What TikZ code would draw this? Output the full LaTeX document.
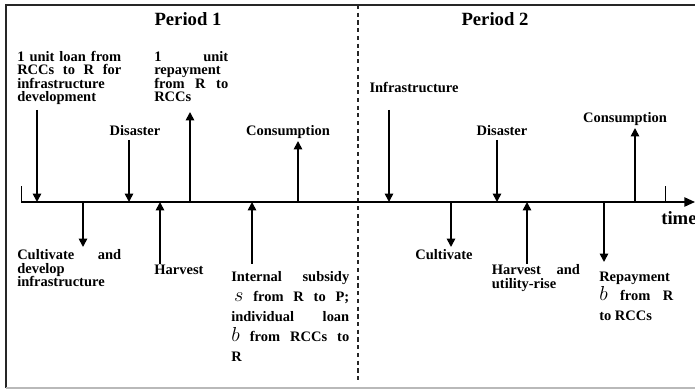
\documentclass[tikz,border=0pt]{standalone}
\usepackage{fontspec}
\setmainfont{Liberation Serif}
\usetikzlibrary{arrows.meta}

\begin{document}
\begin{tikzpicture}[
  evtlabel/.style={font=\fontsize{10.3}{9.5}\selectfont\bfseries, inner sep=0pt,
              anchor=base},
  evtblock/.style={evtlabel, anchor=base west, text width=#1, align=justify},
  mathgap/.style={font=\fontsize{10.3}{14.2}\selectfont\bfseries},
  periodlabel/.style={font=\fontsize{13.3}{15}\selectfont\bfseries, inner sep=0pt,
              anchor=base},
  evtarr/.style={-{Triangle[length=6pt, width=6pt]}, line width=1.2pt},
  axisline/.style={-{Triangle[length=7.5pt, width=6.5pt]}, line width=1.2pt},
  axtick/.style={line width=0.7pt}
]
  \useasboundingbox (0,0) rectangle (17.375,9.725);

  % Frame
  \draw[line width=1.5pt, black!85] (0.15,0.025) -- (0.15,9.6) -- (17.375,9.6);
  \draw[line width=0.8pt, gray!55] (0.15,0.025) -- (17.375,0.025);

  % Period divider
  \draw[gray!30!black, line width=0.8pt, dash pattern=on 3pt off 2.5pt]
    (8.95,9.6) -- (8.95,0.175);

  % Periods
  \node[periodlabel] (p1) at (4.7,9.09)   {Period 1};
  \node[periodlabel] (p2) at (12.375,9.09) {Period 2};

  % Time axis
  \coordinate (axL)   at (0.525,4.675);
  \coordinate (axR)   at (17.375,4.675);
  \coordinate (tickL) at (0.525,5.075);
  \coordinate (tickR) at (16.625,5.075);
  \coordinate (tickRb) at (16.625,4.675);
  \draw[axisline] (axL) -- (axR);
  \draw[axtick] (axL) -- (tickL);
  \draw[axtick] (tickRb) -- (tickR);
  \node[periodlabel, anchor=base west] (time) at (16.525,4.1) {time};

  % Events above the axis
  \node[evtblock=2.6cm] (loanTxt) at (0.425,8.19)
    {1 unit loan from\linebreak RCCs to R for\linebreak infrastructure\linebreak development};
  \node[evtblock=1.85cm] (rep1Txt) at (3.85,8.19)
    {1 unit\linebreak repayment\linebreak from R to\linebreak RCCs};
  \node[evtlabel] (dis1Txt) at (3.375,6.325) {Disaster};
  \node[evtlabel] (con1Txt) at (7.2,6.325)   {Consumption};
  \node[evtlabel] (infTxt)  at (10.35,7.4)   {Infrastructure};
  \node[evtlabel] (dis2Txt) at (12.55,6.325) {Disaster};
  \node[evtlabel] (con2Txt) at (15.625,6.65) {Consumption};

  % Events below the axis
  \node[evtblock=2.6cm] (cul1Txt) at (0.425,3.225)
    {Cultivate and\linebreak develop\linebreak infrastructure};
  \node[evtlabel] (har1Txt) at (4.475,2.85) {Harvest};
  \node[evtblock=2.95cm, mathgap] (subTxt) at (5.775,2.675)
    {Internal subsidy\linebreak \hspace*{2pt}{\Large$s$} from R to P;\linebreak individual loan\linebreak
     {\Large$b$} from RCCs to\linebreak R};
  \node[evtlabel] (cul2Txt) at (11.1,3.225) {Cultivate};
  \node[evtblock=2.2cm] (har2Txt) at (12.29,2.85)
    {Harvest and\linebreak utility-rise};
  \node[evtblock=1.85cm, mathgap] (rep2Txt) at (14.975,2.7)
    {Repayment\linebreak {\Large$b$} from R\linebreak to RCCs};

  % Arrow ends: away from the axis and on it
  \foreach \nm/\x/\y in {loan/0.925/6.975, dis1/3.225/6.225, rep1/4.75/6.925,
      con1/7.45/6.2, cul1/2.075/3.55, har1/4.0/3.125, sub/6.3/3.125,
      inf/9.725/6.975, dis2/12.425/6.225, con2/15.875/6.525,
      cul2/11.275/3.55, har2/13.175/3.125, rep2/15.1/3.175}{
    \coordinate (\nm Far) at (\x,\y);
    \coordinate (\nm Ax)  at (\x,4.675);
  }

  % Arrows
  \draw[evtarr] (loanFar) -- (loanAx);
  \draw[evtarr] (dis1Far) -- (dis1Ax);
  \draw[evtarr] (rep1Ax)  -- (rep1Far);
  \draw[evtarr] (con1Ax)  -- (con1Far);
  \draw[evtarr] (cul1Ax)  -- (cul1Far);
  \draw[evtarr] (har1Far) -- (har1Ax);
  \draw[evtarr] (subFar)  -- (subAx);
  \draw[evtarr] (infFar)  -- (infAx);
  \draw[evtarr] (dis2Far) -- (dis2Ax);
  \draw[evtarr] (con2Ax)  -- (con2Far);
  \draw[evtarr] (cul2Ax)  -- (cul2Far);
  \draw[evtarr] (har2Far) -- (har2Ax);
  \draw[evtarr] (rep2Ax)  -- (rep2Far);

\end{tikzpicture}
\end{document}
